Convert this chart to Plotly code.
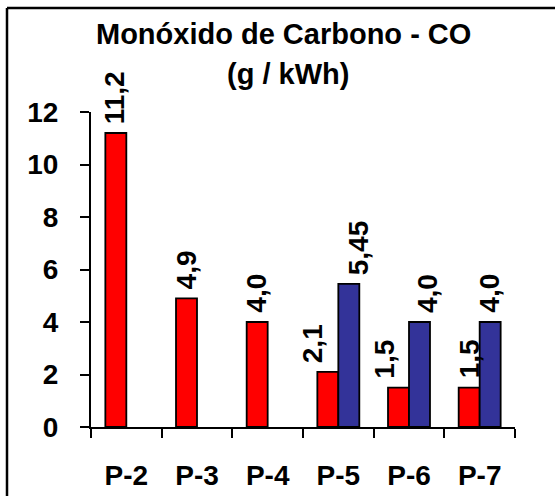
import plotly.graph_objects as go

# Carbon monoxide emissions per sample point (g/kWh)
categories = ["P-2", "P-3", "P-4", "P-5", "P-6", "P-7"]
serie_a = [11.2, 4.9, 4.0, 2.1, 1.5, 1.5]
serie_b = [None, None, None, 5.45, 4.0, 4.0]
label_a = ["11,2", "4,9", "4,0", "2,1", "1,5", "1,5"]
label_b = [None, None, None, "5,45", "4,0", "4,0"]
y_ticks = [0, 2, 4, 6, 8, 10, 12]

W, H = 555, 496
ML, MR, MT, MB = 91, 40, 112, 69
PW, PH = W - ML - MR, H - MT - MB

FONT = "Liberation Sans, Arial, sans-serif"
RED = "#FF0000"
BLUE = "#333399"

def px_x(px):
    return (px - ML) / PW

def px_y(py):
    return (H - MB - py) / PH

fig = go.Figure()
fig.add_trace(go.Bar(x=categories, y=serie_a, marker=dict(color=RED, line=dict(color="black", width=1.8)),
                     showlegend=False))
fig.add_trace(go.Bar(x=categories, y=serie_b, marker=dict(color=BLUE, line=dict(color="black", width=1.8)),
                     showlegend=False))

bargap = 0.406
bar_px = PW / len(categories) * (1 - bargap) / 2

# small horizontal nudges of the value labels
nudge_a = [-1, 0, -1, -15, -14, 0]
nudge_b = [0, 0, 0, 10, 8, -1]

label_font = dict(family=FONT, size=28, color="black", weight="bold")
annotations = []
for cat, v, t, n in zip(categories, serie_a, label_a, nudge_a):
    annotations.append(dict(x=cat, y=v, xref="x", yref="y", text=t, textangle=-90, showarrow=False,
                            xanchor="center", yanchor="bottom", xshift=-bar_px / 2 + n, yshift=7,
                            font=label_font))
for cat, v, t, n in zip(categories, serie_b, label_b, nudge_b):
    if v is None:
        continue
    annotations.append(dict(x=cat, y=v, xref="x", yref="y", text=t, textangle=-90, showarrow=False,
                            xanchor="center", yanchor="bottom", xshift=bar_px / 2 + n, yshift=7,
                            font=label_font))

# two-line title
title_font = dict(family=FONT, size=29, color="black", weight="bold")
annotations.append(dict(x=px_x(283), y=px_y(34), xref="paper", yref="paper", showarrow=False,
                        text="Monóxido de Carbono - CO", xanchor="center", yanchor="middle",
                        font=title_font))
annotations.append(dict(x=px_x(288), y=px_y(74), xref="paper", yref="paper", showarrow=False,
                        text="(g / kWh)", xanchor="center", yanchor="middle",
                        font=title_font))

# outer frame (top and left edges)
shapes = [
    dict(type="line", xref="paper", yref="paper", x0=px_x(7), y0=px_y(8), x1=px_x(W + 5), y1=px_y(8),
         line=dict(color="black", width=2.5)),
    dict(type="line", xref="paper", yref="paper", x0=px_x(7), y0=px_y(8), x1=px_x(7), y1=px_y(H + 5),
         line=dict(color="black", width=2.5)),
]

fig.update_layout(
    width=W, height=H,
    margin=dict(l=ML, r=MR, t=MT, b=MB, pad=0, autoexpand=False),
    paper_bgcolor="white", plot_bgcolor="white",
    barmode="group", bargap=bargap, bargroupgap=0,
    annotations=annotations, shapes=shapes,
    font=dict(family=FONT, color="black"),
)
fig.update_xaxes(
    type="category", showline=True, linecolor="black", linewidth=2, automargin=False,
    ticks="outside", tickson="boundaries", ticklen=9, tickwidth=2, tickcolor="black",
    ticklabelstandoff=22, showgrid=False, zeroline=False,
    tickfont=dict(family=FONT, size=28, color="black", weight="bold"),
)
fig.update_yaxes(
    range=[0, 12], tickvals=y_ticks, showline=True, linecolor="black", linewidth=2, automargin=False,
    ticks="outside", ticklen=9, tickwidth=2, tickcolor="black",
    ticklabelstandoff=16, showgrid=False, zeroline=False,
    tickfont=dict(family=FONT, size=28, color="black", weight="bold"),
)

fig.write_html("out.html")
